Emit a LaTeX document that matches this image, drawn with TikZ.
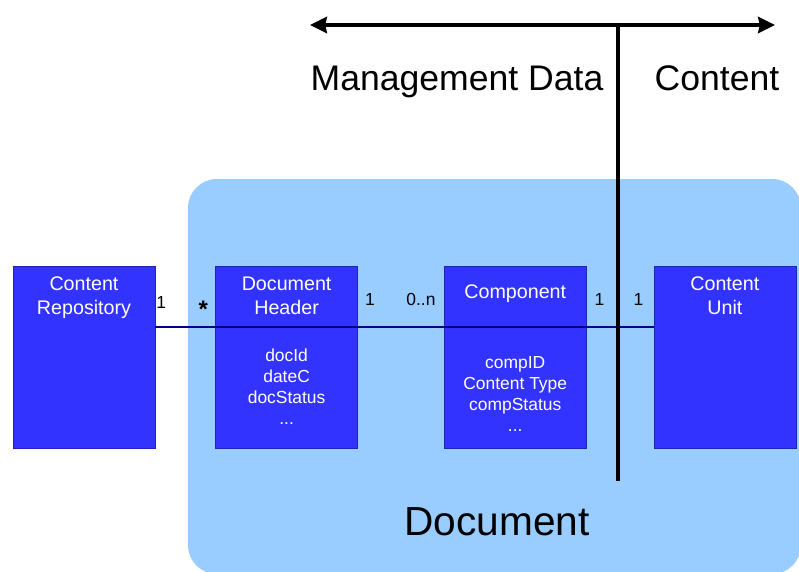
\documentclass[tikz,border=0pt]{standalone}
\usepackage{fontspec}
\setmainfont{Liberation Sans}
\usepackage{tikz}
\usetikzlibrary{arrows.meta,positioning}

\definecolor{docblue}{HTML}{99CCFF}
\definecolor{boxblue}{HTML}{3333FF}
\definecolor{boxedge}{HTML}{2222BB}
\definecolor{linknavy}{HTML}{000088}

\begin{document}
\begin{tikzpicture}[
    x=0.025cm,
    y=-0.025cm,
    classbox/.style={
        rectangle,
        draw=boxedge,
        fill=boxblue,
        minimum width=3.55cm,
        minimum height=4.55cm,
        inner sep=0pt
    },
    classtitle/.style={
        text=white,
        align=center,
        font=\fontsize{14}{17}\selectfont,
        inner sep=0pt
    },
    classattr/.style={
        text=white,
        align=center,
        font=\fontsize{12.4}{15}\selectfont,
        inner sep=0pt
    },
    mult/.style={
        font=\fontsize{12.4}{15}\selectfont,
        inner sep=0pt
    },
    heading/.style={
        font=\fontsize{25.3}{30}\selectfont,
        inner sep=0pt,
        anchor=base
    },
    assoc/.style={
        draw=linknavy,
        line width=1.4pt
    },
    divider/.style={
        draw=black,
        line width=3.4pt
    },
    axis/.style={
        draw=black,
        line width=2.8pt,
        {Stealth[length=0.42cm,width=0.4cm,inset=0.04cm]}-{Stealth[length=0.42cm,width=0.4cm,inset=0.04cm]}
    }
]
\useasboundingbox (0,0) rectangle (799,571);
\clip (0,0) rectangle (799,571);

% Document area
\fill [docblue, rounded corners=0.72cm] (188,179) rectangle (801,574);
\node [font=\fontsize{28.9}{34}\selectfont, inner sep=0pt] (doclbl) at (497,522) {Document};

% Nodes
\node [classbox] (repo) at (84,357) {};
\node [classbox, right=1.5cm of repo] (hdr) {};
\node [classbox, right=2.15cm of hdr] (comp) {};
\node [classbox, right=1.675cm of comp] (unit) {};

\node [classtitle] (repoT) at ([yshift=-0.8cm]repo.north) {Content\\Repository};
\node [classtitle] (hdrT) at ([yshift=-0.75cm]hdr.north) {Document\\Header};
\node [classtitle] (compT) at ([yshift=-0.7cm]comp.north) {Component};
\node [classtitle] (unitT) at ([yshift=-0.75cm]unit.north) {Content\\Unit};

\node [classattr] (hdrA) at ([yshift=-3.02cm]hdr.north) {docId\\dateC\\docStatus\\...};
\node [classattr] (compA) at ([yshift=-3.2cm]comp.north) {compID\\Content Type\\compStatus\\...};

% Edges
\path [assoc] ([yshift=0.75cm]repo.east) -- ([yshift=0.75cm]unit.west);

% Multiplicities
\node [mult] (m1) at ([xshift=0.15cm, yshift=1.35cm]repo.east) {1};
\node [mult, font=\fontsize{17}{20}\selectfont\bfseries] (m2) at ([xshift=-0.3cm, yshift=1.2cm]hdr.west) {*};
\node [mult] (m3) at ([xshift=0.3cm, yshift=1.425cm]hdr.east) {1};
\node [mult] (m4) at ([xshift=-0.575cm, yshift=1.425cm]comp.west) {0..n};
\node [mult] (m5) at ([xshift=0.325cm, yshift=1.425cm]comp.east) {1};
\node [mult] (m6) at ([xshift=-0.375cm, yshift=1.425cm]unit.west) {1};

% Management data / content split
\coordinate (arrL) at (310,25);
\coordinate (arrR) at (775,25);
\coordinate (divtop) at (618,25);
\coordinate (divbot) at (618,481);
\path [axis] (arrL) -- (arrR);
\path [divider] (divtop) -- (divbot);

\node [heading] (mgmt) at (457,91) {Management Data};
\node [heading] (cont) at (717,91) {Content};

\end{tikzpicture}
\end{document}
